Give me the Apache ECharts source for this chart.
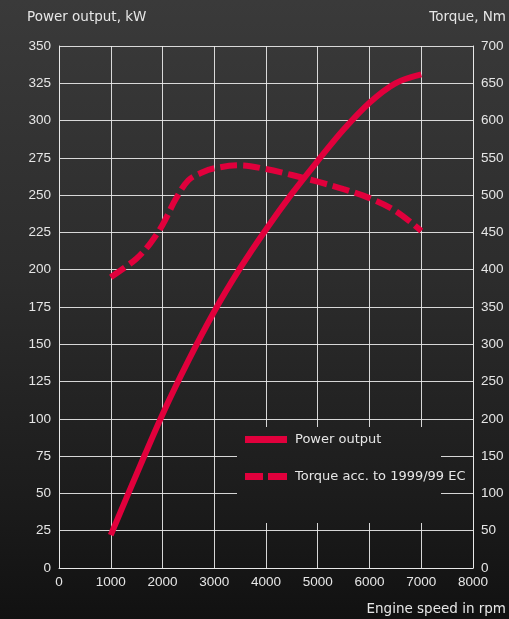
<!DOCTYPE html>
<html>
<head>
<meta charset="utf-8">
<script src="https://cdn.jsdelivr.net/npm/echarts@6/dist/echarts.min.js"></script>
<style>
html,body{margin:0;padding:0;background:#222;}
#c{width:509px;height:619px;}
</style>
</head>
<body>
<div id="c"></div>
<script>
// Data
var powerRpm   = [1000,1500,2000,2500,3000,3500,4000,4500,5000,5500,6000,6500,7000];
var powerKW    = [22,  63,  103, 139, 172, 201, 227, 251, 273, 294, 312, 325, 331];
var torqueRpm  = [1000,1250,1500,1750,2000,2250,2500,2750,3000,3500,4000,4500,5000,5500,6000,6500,7000];
var torqueNm   = [390, 402, 415, 434, 460, 494, 520, 530, 536, 540, 535, 527, 518, 508, 496, 479, 452];
var seriesNames = ['Power output','Torque acc. to 1999/99 EC'];
var axisNames = {left:'Power output, kW', right:'Torque, Nm', bottom:'Engine speed in rpm'};

var RED = '#e1003c';
var TXT = '#e6e6e6';
var NUMFONT = '"Liberation Sans", Arial, sans-serif';
var TXTFONT = '"DejaVu Sans", sans-serif';

function bgGrad(){
  return new echarts.graphic.LinearGradient(0,0,0,619,[
    {offset:0,color:'#3a3a3a'},
    {offset:0.45,color:'#2c2c2c'},
    {offset:0.8,color:'#1c1c1c'},
    {offset:1,color:'#111111'}
  ], true);
}
function plain(v){ return String(v); }

var chart = echarts.init(document.getElementById('c'), null, {renderer:'canvas'});
var option = {
  backgroundColor: bgGrad(),
  animation:false,
  textStyle:{fontFamily:NUMFONT},
  grid:{left:59, right:36, top:46, bottom:51, containLabel:false},
  xAxis:{
    type:'value', min:0, max:8000, interval:1000,
    axisLine:{show:true, lineStyle:{color:'#e8e8e8', width:1}},
    axisTick:{show:false},
    axisLabel:{color:TXT, fontSize:13.5, margin:7, fontFamily:NUMFONT, formatter:plain},
    splitLine:{show:true, lineStyle:{color:'rgba(235,235,235,0.9)', width:1}},
    name: axisNames.bottom, nameLocation:'end', nameGap:0,
    nameTextStyle:{color:TXT, fontSize:13.5, fontFamily:TXTFONT, align:'right', verticalAlign:'top', padding:[34,-33,0,0]}
  },
  yAxis:[{
    type:'value', min:0, max:350, interval:25, position:'left',
    axisLine:{show:true, lineStyle:{color:'#e8e8e8', width:1}},
    axisTick:{show:false},
    axisLabel:{color:TXT, fontSize:13.5, margin:8, fontFamily:NUMFONT, formatter:plain},
    splitLine:{show:true, lineStyle:{color:'rgba(235,235,235,0.9)', width:1}},
    name: axisNames.left, nameLocation:'end', nameGap:22,
    nameTextStyle:{color:TXT, fontSize:13.5, fontFamily:TXTFONT, align:'left', padding:[0,0,0,-32]}
  },{
    type:'value', min:0, max:700, interval:50, position:'right',
    axisLine:{show:true, lineStyle:{color:'#e8e8e8', width:1}},
    axisTick:{show:false},
    axisLabel:{color:TXT, fontSize:13.5, margin:8, fontFamily:NUMFONT, formatter:plain},
    splitLine:{show:false},
    name: axisNames.right, nameLocation:'end', nameGap:22,
    nameTextStyle:{color:TXT, fontSize:13.5, fontFamily:TXTFONT, align:'right', padding:[0,-33,0,0]}
  }],
  legend:{
    orient:'vertical', left:240, top:428, itemGap:24, itemWidth:42, itemHeight:7,
    textStyle:{color:TXT, fontSize:13, fontFamily:TXTFONT, padding:[0,0,0,3]},
    data:[
      {name:seriesNames[0], icon:'rect'},
      {name:seriesNames[1], icon:'path://M0,0h18v7h-18z M23,0h19v7h-19z'}
    ]
  },
  graphic:[{
    type:'rect', z:1, silent:true,
    shape:{x:237, y:427, width:204, height:96},
    style:{fill:bgGrad()}
  }],
  series:[{
    name:seriesNames[0], type:'line', yAxisIndex:0, smooth:0.35, showSymbol:false, z:5,
    data: powerRpm.map(function(r,i){return [r,powerKW[i]];}),
    lineStyle:{color:RED, width:6, cap:'butt'},
    itemStyle:{color:RED}
  },{
    name:seriesNames[1], type:'line', yAxisIndex:1, smooth:0.35, showSymbol:false, z:5,
    data: torqueRpm.map(function(r,i){return [r,torqueNm[i]];}),
    lineStyle:{color:RED, width:6, type:[17,6], cap:'butt'},
    itemStyle:{color:RED}
  }]
};
chart.setOption(option);
</script>
</body>
</html>
